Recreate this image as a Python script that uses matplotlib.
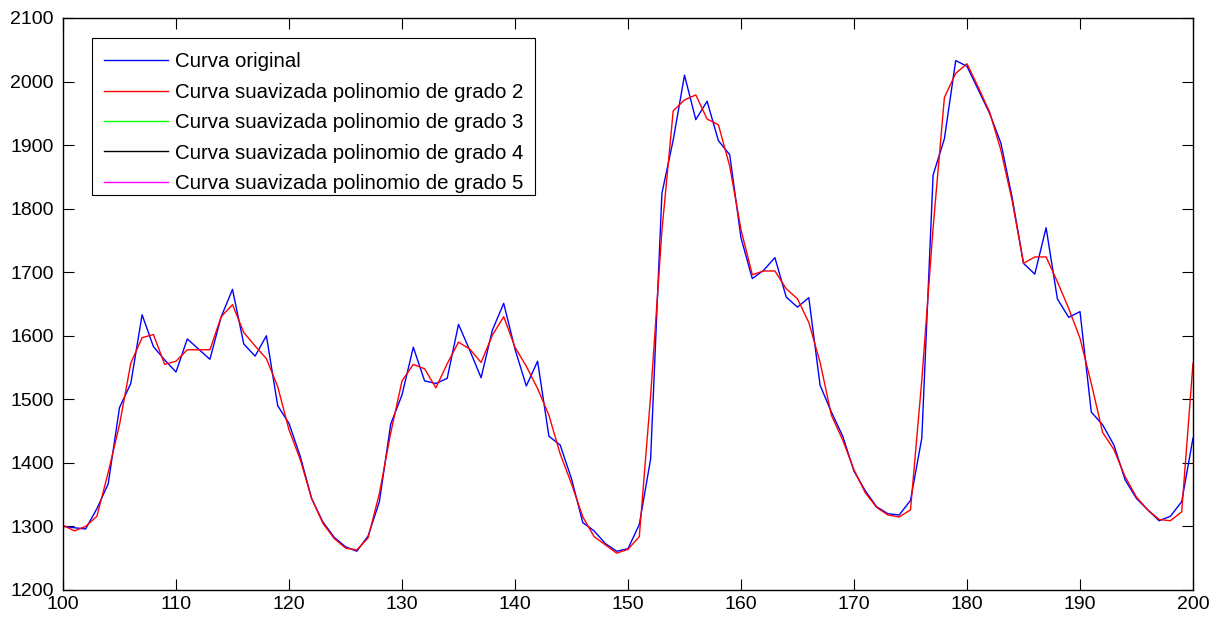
import numpy as np
import matplotlib
matplotlib.use("Agg")
import matplotlib.pyplot as plt
from matplotlib.lines import Line2D
from matplotlib.patches import Rectangle

plt.rcParams['font.family'] = ['Liberation Sans', 'DejaVu Sans']

x = np.arange(100, 201)

curva_original = [
    1300, 1298, 1296, 1328, 1367, 1487, 1525, 1633, 1583, 1562,
    1543, 1595, 1579, 1563, 1630, 1673, 1587, 1568, 1600, 1490,
    1462, 1410, 1344, 1307, 1283, 1268, 1261, 1285, 1339, 1461,
    1507, 1582, 1529, 1525, 1533, 1618, 1577, 1534, 1609, 1651,
    1579, 1521, 1560, 1442, 1428, 1375, 1306, 1293, 1273, 1261,
    1265, 1303, 1406, 1824, 1908, 2010, 1940, 1969, 1907, 1885,
    1754, 1690, 1703, 1723, 1661, 1645, 1660, 1522, 1480, 1442,
    1387, 1356, 1331, 1320, 1318, 1341, 1439, 1853, 1910, 2033,
    2024, 1987, 1950, 1903, 1817, 1714, 1697, 1770, 1658, 1629,
    1638, 1480, 1460, 1428, 1373, 1344, 1326, 1309, 1316, 1339,
    1439,
]

curva_grado2 = [
    1302, 1293, 1300, 1316, 1385, 1460, 1557, 1597, 1602, 1555,
    1560, 1578, 1578, 1578, 1630, 1649, 1605, 1584, 1564, 1520,
    1452, 1405, 1344, 1305, 1281, 1266, 1263, 1282, 1352, 1447,
    1529, 1555, 1548, 1518, 1556, 1590, 1579, 1558, 1601, 1630,
    1582, 1552, 1517, 1475, 1414, 1367, 1315, 1284, 1271, 1258,
    1264, 1284, 1505, 1765, 1954, 1971, 1979, 1941, 1932, 1867,
    1767, 1696, 1702, 1702, 1674, 1658, 1621, 1558, 1475, 1436,
    1389, 1353, 1330, 1318, 1315, 1326, 1530, 1770, 1975, 2013,
    2028, 1991, 1952, 1892, 1812, 1714, 1724, 1724, 1685, 1643,
    1596, 1525, 1448, 1421, 1378, 1346, 1326, 1311, 1309, 1323,
    1557,
]

etiquetas = [
    'Curva original',
    'Curva suavizada polinomio de grado 2',
    'Curva suavizada polinomio de grado 3',
    'Curva suavizada polinomio de grado 4',
    'Curva suavizada polinomio de grado 5',
]
colores = ['#0000ff', '#ff0000', '#00ff00', '#000000', '#ff00ff']

W, H = 1218, 619
AX_L, AX_R, AX_T, AX_B = 63, 1193, 18, 590
aw, ah = AX_R - AX_L, AX_B - AX_T

fig = plt.figure(figsize=(W / 100, H / 100), dpi=100)
ax = fig.add_axes([AX_L / W, 1 - AX_B / H, aw / W, ah / H])

ax.plot(x, curva_original, color=colores[0], lw=1.0, zorder=2)
ax.plot(x, curva_grado2, color=colores[1], lw=1.0, zorder=2)

ax.set_xlim(100, 200)
ax.set_ylim(1200, 2100)
ax.set_xticks(np.arange(100, 201, 10))
ax.set_yticks(np.arange(1200, 2101, 100))
ax.tick_params(direction='in', length=8, width=0.8, top=True, right=True,
               labelsize=14, colors='black')
ax.tick_params(axis='y', pad=6.5)
ax.tick_params(axis='x', pad=4)
for s in ax.spines.values():
    s.set_linewidth(1.0)
    s.set_color('black')

# legend box (pixel extents of the frame)
bx0, bx1, by0, by1 = 92, 535, 38, 195
caja = Rectangle(((bx0 - AX_L) / aw, (AX_B - by1) / ah),
                 (bx1 - bx0) / aw, (by1 - by0) / ah,
                 transform=ax.transAxes, facecolor='white',
                 edgecolor='black', lw=0.8, zorder=4)
ax.add_patch(caja)

handles = [Line2D([], [], color=c, lw=1.0) for c in colores]
leg = ax.legend(handles, etiquetas, loc='upper left',
                bbox_to_anchor=((bx0 - AX_L) / aw, (AX_B - 40) / ah),
                borderaxespad=0, fontsize=14.7, frameon=False,
                handlelength=3.14, handletextpad=0.34, labelspacing=0.56,
                borderpad=0.6)
leg.set_zorder(5)

fig.savefig('out.png', dpi=100, facecolor='white')
